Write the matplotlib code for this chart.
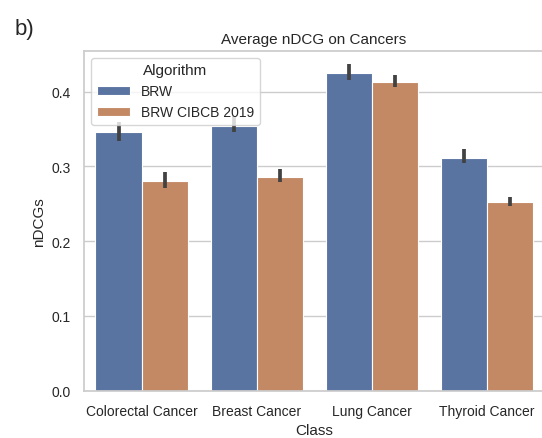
import matplotlib
matplotlib.use("Agg")
import matplotlib.pyplot as plt
import seaborn as sns
import numpy as np

sns.set_theme(style="whitegrid")
plt.rcParams['font.family'] = ['Liberation Sans', 'DejaVu Sans']

classes = ["Colorectal Cancer", "Breast Cancer", "Lung Cancer", "Thyroid Cancer"]
algorithms = ["BRW", "BRW CIBCB 2019"]

# mean nDCG per class, with lower / upper confidence bounds
brw_mean = [0.3455, 0.3535, 0.4244, 0.312]
brw_low = [0.334, 0.3455, 0.4154, 0.3045]
brw_high = [0.359, 0.368, 0.4368, 0.324]

cibcb_mean = [0.281, 0.286, 0.4132, 0.252]
cibcb_low = [0.271, 0.279, 0.407, 0.2474]
cibcb_high = [0.293, 0.297, 0.4225, 0.2594]

colors = ["#5a74a2", "#c38965"]

fig = plt.figure(figsize=(5.42, 4.39), dpi=100)
ax = fig.add_axes([84 / 542, 1 - 391.7 / 439, 460 / 542, (391.7 - 52) / 439])

x = np.arange(len(classes))
width = 0.4
series = [(brw_mean, brw_low, brw_high), (cibcb_mean, cibcb_low, cibcb_high)]
for i, (mean, low, high) in enumerate(series):
    pos = x + (i - 0.5) * width
    ax.bar(pos, mean, width, color=colors[i], edgecolor="white", linewidth=0.8,
           label=algorithms[i], zorder=2)
    ax.vlines(pos, low, high, color="#424242", linewidth=2.7, zorder=3)

ax.set_xlim(-0.5, 3.5)
ax.set_ylim(0, 0.4545)
ax.set_yticks([0.0, 0.1, 0.2, 0.3, 0.4])
ax.set_xticks(x)
ax.set_xticklabels(classes)
ax.tick_params(labelsize=10)
ax.set_xlabel("Class", fontsize=11)
ax.set_ylabel("nDCGs", fontsize=11)
ax.set_title("Average nDCG on Cancers", fontsize=11)
ax.grid(axis="x", visible=False)

leg = ax.legend(title="Algorithm", loc="upper left", fontsize=10, title_fontsize=11,
                bbox_to_anchor=(0.0, 1.0), handlelength=2.4)

fig.text(15 / 542, 1 - 30 / 439, "b)", fontsize=16, va="center", ha="left")

fig.savefig("out.png", dpi=100)
